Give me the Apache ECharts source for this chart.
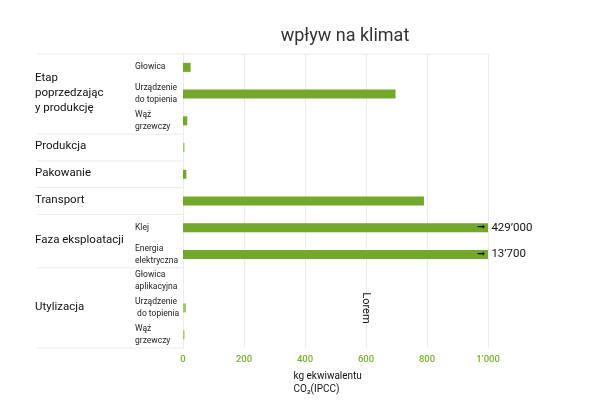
<!DOCTYPE html>
<html><head><meta charset="utf-8">
<script src="https://cdn.jsdelivr.net/npm/echarts@6/dist/echarts.min.js"></script>
<style>html,body{margin:0;padding:0;background:#fff}#c{width:600px;height:400px}</style>
</head><body><div id="c"></div>
<script>
const titleText = 'wpływ na klimat';
const rowLabels = ['Głowica','Urządzenie\ndo topienia','Wąż\ngrzewczy','','','','Klej','Energia\nelektryczna','Głowica\naplikacyjna','Urządzenie\n do topienia','Wąż\ngrzewczy'];
const values = [25, 697, 14, 5, 11, 790, 1000, 1000, 0, 10, 5];
const realValues = ['', '', '', '', '', '', '429’000', '13’700', '', '', ''];
const groupNames = ['Etap\npoprzedzając\ny produkcję','Produkcja','Pakowanie','Transport','Faza eksploatacji','Utylizacja'];
const groupSizes = [3, 1, 1, 1, 2, 3];
const xTicks = [0, 200, 400, 600, 800, 1000];
const xTickLabels = ['0', '200', '400', '600', '800', '1’000'];
const axisName = 'kg ekwiwalentu\nCO₂(IPCC)';
const noteText = 'Lorem';

const FONT = 'Roboto, "Noto Sans", sans-serif';
const lightRows = [3, 9, 10];
const cats = rowLabels.map((_, i) => String(i));

const chart = echarts.init(document.getElementById('c'));
chart.setOption({
  animation: false,
  textStyle: { fontFamily: FONT },
  title: { text: titleText, left: 340, textAlign: 'center', top: 22,
    textStyle: { fontSize: 18, fontWeight: 'normal', color: '#333', fontFamily: FONT } },
  grid: { left: 183, right: 112, top: 54, bottom: 52, containLabel: false },
  xAxis: {
    type: 'value', min: xTicks[0], max: xTicks[xTicks.length - 1], interval: 200,
    axisLine: { show: false }, axisTick: { show: false },
    axisLabel: { color: '#7ab030', fontSize: 9.5, fontWeight: 500, margin: 7,
      formatter: v => xTickLabels[xTicks.indexOf(v)] },
    splitLine: { show: true, lineStyle: { color: '#ebebeb', width: 1 } }
  },
  yAxis: {
    type: 'category', data: cats, inverse: true,
    axisLine: { show: true, lineStyle: { color: '#ebebeb' } },
    axisTick: { show: false },
    axisLabel: { formatter: v => rowLabels[+v], align: 'left', margin: 48,
      fontSize: 8.5, lineHeight: 12, color: '#222' },
    splitLine: { show: false }
  },
  series: [{
    type: 'bar', barWidth: 9,
    data: values.map((v, i) => ({ value: v,
      itemStyle: { color: lightRows.includes(i) ? '#9ccb67' : '#72a92d' } })),
    label: {
      show: true, position: 'right', distance: 5, offset: [-16, 0],
      color: '#111', fontSize: 11.5,
      formatter: p => realValues[p.dataIndex] ? '{a|➞}' + realValues[p.dataIndex] : '',
      rich: { a: { fontSize: 10, fontFamily: '"DejaVu Sans"', fontWeight: 'bold', color: '#000',
        padding: [0, 6, 0, 0] } }
    }
  }]
});

function build() {
  const yPx = i => chart.convertToPixel({ yAxisIndex: 0 }, cats[i]);
  const band = yPx(1) - yPx(0);
  const x0 = chart.convertToPixel({ xAxisIndex: 0 }, xTicks[0]);
  const x1 = chart.convertToPixel({ xAxisIndex: 0 }, xTicks[xTicks.length - 1]);
  const g = [];
  const topY = yPx(0) - band / 2;
  g.push({ type: 'line', shape: { x1: 37, y1: topY, x2: x1, y2: topY },
    style: { stroke: '#ebebeb', lineWidth: 1 } });
  let start = 0;
  groupNames.forEach((name, k) => {
    const end = start + groupSizes[k];
    const yTop = yPx(start) - band / 2;
    const yBot = yPx(end - 1) + band / 2;
    g.push({ type: 'line', shape: { x1: 37, y1: yBot, x2: x0, y2: yBot },
      style: { stroke: '#ebebeb', lineWidth: 1 } });
    g.push({ type: 'text', x: 35, y: (yTop + yBot) / 2 - 1,
      style: { text: name, fontSize: 11.5, lineHeight: 15, fill: '#111',
        fontFamily: FONT, align: 'left', verticalAlign: 'middle' } });
    start = end;
  });
  const nx = chart.convertToPixel({ xAxisIndex: 0 }, 600);
  g.push({ type: 'text', x: nx, y: yPx(9), rotation: -Math.PI / 2,
    style: { text: noteText, fontSize: 11, fill: '#111', fontFamily: FONT,
      align: 'center', verticalAlign: 'middle' } });
  g.push({ type: 'text', x: (x0 + x1) / 2 - 42, y: yPx(10) + band / 2 + 22,
    style: { text: axisName, fontSize: 10, lineHeight: 13, fill: '#111',
      fontFamily: FONT, align: 'left', verticalAlign: 'top' } });
  chart.setOption({ graphic: g });
}
build();
</script></body></html>
